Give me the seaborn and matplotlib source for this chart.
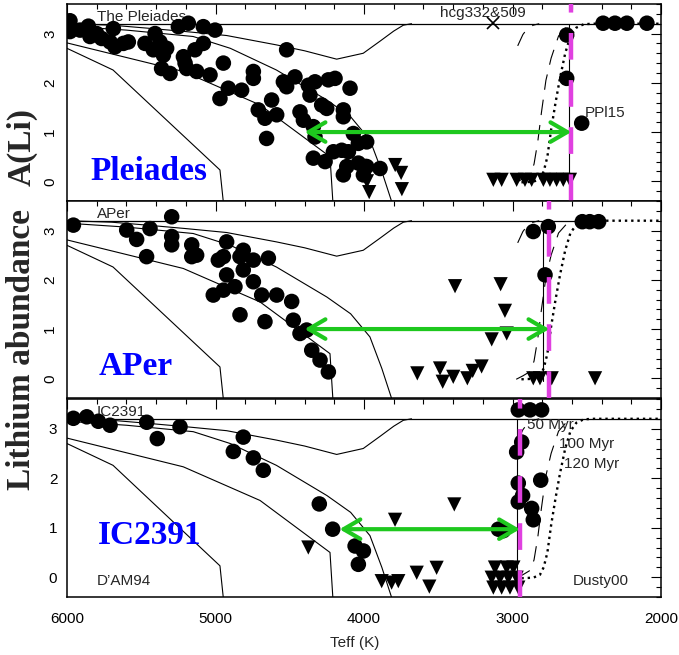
import matplotlib
matplotlib.use("Agg")
import matplotlib.pyplot as plt
from matplotlib.ticker import MultipleLocator, FixedLocator
import seaborn as sns

# ---------------- model curves (D'AM94, same in every panel) ----------------
dam_a_teff = [6000, 5700, 5460, 5200, 4925, 4590, 4400, 4184, 4005, 3890, 3800, 3735, 3680]
dam_a_ali = [3.2, 3.17, 3.11, 3.04, 2.96, 2.77, 2.65, 2.48, 2.6, 2.85, 3.05, 3.17, 3.2]
dam_b_teff = [6000, 5600, 5150, 4900, 4590, 4250, 4090, 3960, 3880, 3815]
dam_b_ali = [3.15, 3.07, 2.94, 2.7, 2.26, 1.65, 1.31, 0.84, 0.2, -0.4]
dam_c_teff = [6000, 5217, 4700, 4229, 4210]
dam_c_ali = [2.81, 2.23, 1.55, 0.5, -0.4]
dam_d_teff = [6000, 5690, 4970, 4948]
dam_d_ali = [2.70, 2.26, 0.23, -0.4]

# ---------------- Dusty00 curves ----------------
dusty_dash_teff = [2975, 2930, 2880, 2855, 2830, 2805, 2775, 2740, 2690, 2640, 2590]
dusty_dash_ali = [-0.02, 0.05, 0.14, 0.35, 0.8, 1.4, 2.05, 2.5, 2.95, 3.12, 3.2]
dusty_hook_teff = [2965, 2930, 2900, 2860, 2820]
dusty_hook_ali = [2.75, 2.98, 3.1, 3.17, 3.2]
dusty_dot_teff = [2940, 2860, 2815, 2790, 2765, 2740, 2710, 2680, 2645, 2610, 2570, 2520, 2450, 2000]
dusty_dot_ali = [-0.02, -0.01, 0.05, 0.2, 0.5, 1.05, 1.6, 2.1, 2.6, 2.95, 3.12, 3.19, 3.2, 3.2]

# solid isochrone, LDB (magenta), arrow ends, per panel
solid_ldb = [2617, 2797, 2972]
magenta_ldb = [2604, 2752, 2950]
arrow_left = [4400, 4400, 4165]
arrow_y = [1.0, 1.0, 0.97]
initial_end = [2000, 2580, 2000]

# ---------------- Pleiades ----------------
ple_det_teff = [5980, 5980, 5912, 5856, 5845, 5800, 5767, 5688, 5710, 5677, 5620, 5587,
                5475, 5407, 5374, 5419, 5351, 5329, 5363, 5306, 5250, 5183, 5082, 5003,
                5216, 5205, 5138, 5082, 5194, 5127, 5037, 4947, 4970, 4914, 4824, 4745,
                4745, 4712, 4667, 4656, 4622, 4588, 4521, 4543, 4521, 4465, 4431, 4408,
                4375, 4364, 4330, 4341, 4330, 4285, 4251, 4240, 4195, 4139, 4139, 4094,
                4341, 4262, 4206, 4150, 4105, 4116, 4139, 4072, 4038, 4038, 4004, 3982,
                3982, 3990, 3892,
                2635, 2635, 2534, 2390, 2310, 2230, 2095]
ple_det_ali = [3.26, 3.04, 3.07, 3.15, 2.94, 3.0, 2.9, 3.1, 2.83, 2.73, 2.8, 2.83,
               2.8, 3.0, 2.83, 2.67, 2.56, 2.7, 2.29, 2.19, 3.14, 3.21, 3.14, 3.07,
               2.53, 2.4, 2.67, 2.8, 2.29, 2.23, 2.16, 2.4, 1.68, 1.89, 1.85, 2.23,
               2.09, 1.45, 1.28, 0.87, 1.65, 1.35, 2.67, 2.02, 1.92, 2.12, 1.41, 1.24,
               1.95, 1.75, 2.02, 1.11, 0.9, 1.55, 1.48, 2.06, 2.09, 1.45, 1.31, 1.89,
               0.47, 0.4, 0.6, 0.63, 0.6, 0.3, 0.13, 0.97, 0.77, 0.37, 0.13, 0.3,
               0.8, 0.3, 0.26,
               2.97, 2.09, 1.18, 3.21, 3.21, 3.21, 3.21]
ple_ul_teff = [3980, 3965, 3790, 3750, 3745,
               3129, 3073, 2972, 2916, 2871, 2792, 2748, 2703, 2658, 2613]
ple_ul_ali = [0.0, -0.22, 0.33, 0.17, -0.16,
              0.03, 0.03, 0.03, 0.03, 0.03, 0.03, 0.03, 0.03, 0.03, 0.03]

# ---------------- Alpha Per ----------------
aper_det_teff = [5957, 5598, 5531, 5441, 5295, 5295, 5295, 5464, 5160, 5160, 5127, 4925,
                 4981, 4947, 4813, 4835, 4745, 4644, 4925, 4813, 4745, 5015, 4947, 4869,
                 4689, 4588, 4487, 4835, 4667, 4476, 4431, 4386, 4352, 4296, 4240,
                 2860, 2759, 2781, 2530, 2480, 2420]
aper_det_ali = [3.11, 3.01, 2.82, 3.04, 3.28, 2.88, 2.71, 2.47, 2.71, 2.47, 2.5, 2.77,
                2.4, 2.47, 2.6, 2.47, 2.4, 2.44, 2.1, 2.2, 1.96, 1.69, 1.79, 1.86,
                1.69, 1.69, 1.56, 1.29, 1.15, 1.18, 0.91, 0.98, 0.57, 0.37, 0.13,
                2.98, 3.08, 2.1, 3.18, 3.18, 3.18]
aper_ul_teff = [3387, 3080, 3051, 3140, 3039, 3641, 3488, 3470, 3399, 3304, 3268, 3208,
                2860, 2815, 2736, 2444]
aper_ul_ali = [1.87, 1.91, 1.37, 0.79, 0.91, 0.10, 0.20, -0.07, 0.03, 0.0, 0.15, 0.24,
               0.0, 0.0, 0.0, 0.0]

# ---------------- IC 2391 ----------------
ic_det_teff = [5957, 5867, 5789, 5710, 5463, 5392, 5239, 4880, 4813, 4745, 4678, 4301,
               4211, 4060, 4004, 4038, 3095, 3062,
               2961, 2882, 2804, 2938, 2972, 2961, 2932, 2961, 2871, 2860, 2810]
ic_det_ali = [3.21, 3.24, 3.15, 3.07, 3.13, 2.8, 3.04, 2.54, 2.83, 2.41, 2.16, 1.48,
              0.97, 0.63, 0.53, 0.26, 0.97, 0.94,
              3.38, 3.38, 3.38, 2.73, 2.53, 1.9, 1.65, 1.52, 1.39, 1.16, 1.96]
ic_ul_teff = [4375, 3791, 3392, 3881, 3814, 3769, 3645, 3511, 3560,
              3118, 3039, 2994, 3140, 3084, 3028, 2972, 3129, 3073, 3017, 2961]
ic_ul_ali = [0.6, 1.16, 1.47, -0.08, -0.11, -0.08, 0.09, 0.19, -0.19,
             0.195, 0.195, 0.195, -0.01, -0.01, -0.01, -0.01, -0.21, -0.21, -0.21, -0.21]

panel_names = ["Pleiades", "APer", "IC2391"]
corner_labels = ["The Pleiades", "APer", "IC2391"]
name_pos = [(5845, 0.19), (5789, 0.24), (5789, 0.84)]
det_teff = [ple_det_teff, aper_det_teff, ic_det_teff]
det_ali = [ple_det_ali, aper_det_ali, ic_det_ali]
ul_teff = [ple_ul_teff, aper_ul_teff, ic_ul_teff]
ul_ali = [ple_ul_ali, aper_ul_ali, ic_ul_ali]

sns.set_style("white")
plt.rcParams['font.family'] = ['Liberation Sans', 'DejaVu Sans']

W, H = 679, 655
fig = plt.figure(figsize=(W / 100, H / 100), dpi=100)
panel_px = [(4, 201), (201, 398), (399, 597)]
green = '#1ec81e'
magenta = '#e040e0'
serif = ['Liberation Serif', 'DejaVu Serif']

axes = []
for i, (top, bot) in enumerate(panel_px):
    ax = fig.add_axes([67 / W, 1 - bot / H, (661 - 67) / W, (bot - top) / H])
    axes.append(ax)
    ax.set_xlim(6000, 2000)
    ax.set_ylim(-0.4, 3.6)

    # initial abundance and D'AM94 curves
    ax.plot([6000, initial_end[i]], [3.2, 3.2], color='k', lw=0.9, zorder=1)
    for tx, ty in [(dam_a_teff, dam_a_ali), (dam_b_teff, dam_b_ali),
                   (dam_c_teff, dam_c_ali), (dam_d_teff, dam_d_ali)]:
        sns.lineplot(x=tx, y=ty, ax=ax, color='k', lw=0.8, sort=False,
                     estimator=None, zorder=1)

    # Dusty00 curves
    ax.plot([solid_ldb[i], solid_ldb[i]], [-0.05, 3.2], color='k', lw=0.8, zorder=1)
    ax.plot(dusty_dash_teff, dusty_dash_ali, color='k', lw=0.8, dashes=[14, 9], zorder=1)
    ax.plot(dusty_hook_teff, dusty_hook_ali, color='k', lw=0.8, dashes=[14, 9], zorder=1)
    ax.plot(dusty_dot_teff, dusty_dot_ali, color='k', lw=1.7, ls=':', zorder=1)

    # texts
    ax.text(5800, 3.33, corner_labels[i], fontsize=11, va='center', ha='left', zorder=2)
    ax.text(name_pos[i][0], name_pos[i][1], panel_names[i], color='#0000ff',
            fontsize=24, fontweight='bold', family=serif, va='center', ha='left', zorder=2)

    # data
    sns.scatterplot(x=det_teff[i], y=det_ali[i], ax=ax, color='k', s=125,
                    marker='o', edgecolor='none', linewidth=0, zorder=3)
    sns.scatterplot(x=ul_teff[i], y=ul_ali[i], ax=ax, color='k', s=105,
                    marker='v', edgecolor='none', linewidth=0, zorder=3)

    # LDB and arrow
    ax.axvline(magenta_ldb[i], color=magenta, lw=3.2, dashes=[6.0, 4.6], zorder=4)
    ax.annotate('', xy=(magenta_ldb[i], arrow_y[i]), xytext=(arrow_left[i], arrow_y[i]),
                arrowprops=dict(arrowstyle='<->,head_length=0.6,head_width=0.35',
                                color=green, lw=3, mutation_scale=20,
                                shrinkA=0, shrinkB=0), zorder=5)

    ax.xaxis.set_major_locator(MultipleLocator(1000))
    ax.xaxis.set_minor_locator(MultipleLocator(200))
    ax.yaxis.set_major_locator(FixedLocator([0, 1, 2, 3]))
    ax.yaxis.set_minor_locator(MultipleLocator(0.2))
    ax.tick_params(which='both', direction='in', top=True, right=True,
                   width=0.8, labelsize=11, colors='k')
    ax.tick_params(which='major', length=7)
    ax.tick_params(which='minor', length=3.5)
    ax.tick_params(axis='x', pad=11)
    ax.tick_params(axis='y', pad=7)
    for sp in ax.spines.values():
        sp.set_linewidth(1.1)
        sp.set_color('k')
    ax.set_xlabel('')
    ax.set_ylabel('')
    if i < 2:
        ax.tick_params(axis='x', labelbottom=False)
        plt.setp(ax.get_yticklabels(), rotation=90, va='center')

ax1, ax2, ax3 = axes
ax1.plot([3134], [3.21], marker='x', color='k', ms=8, mew=1.2, zorder=3)
ax1.text(3199, 3.42, 'hcg332&509', fontsize=11, ha='center', va='center', zorder=2)
ax1.text(2512, 1.39, 'PPl15', fontsize=11, ha='left', va='center', zorder=2)

ax3.text(5800, -0.08, 'D\u2019AM94', fontsize=11, ha='left', va='center', zorder=2)
ax3.text(2593, -0.08, 'Dusty00', fontsize=11, ha='left', va='center', zorder=2)
ax3.text(2905, 3.07, '50 Myr', fontsize=11, ha='left', va='center', zorder=2)
ax3.text(2685, 2.70, '100 Myr', fontsize=11, ha='left', va='center', zorder=2)
ax3.text(2653, 2.29, '120 Myr', fontsize=11, ha='left', va='center', zorder=2)

fig.text(355 / W, 1 - 643 / H, 'Teff (K)', fontsize=11, ha='center', va='center')
fig.text(22 / W, 1 - 147 / H, 'A(Li)', fontsize=24, fontweight='bold', family=serif,
         rotation=90, ha='center', va='center')
fig.text(22 / W, 1 - 350 / H, 'Lithium abundance', fontsize=24, fontweight='bold',
         family=serif, rotation=90, ha='center', va='center')

fig.savefig('out.png', dpi=100)
